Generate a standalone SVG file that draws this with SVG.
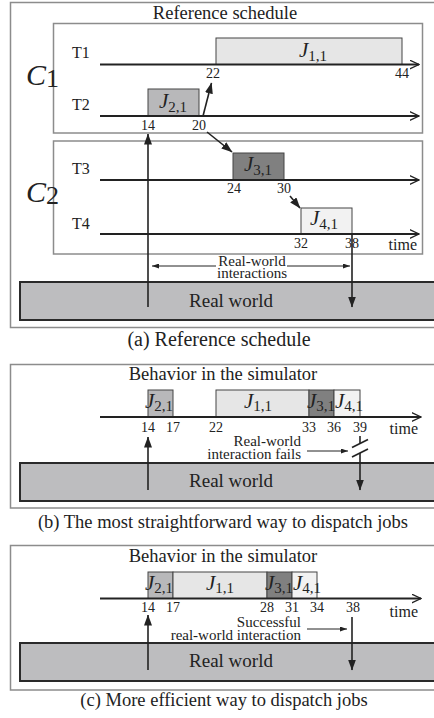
<svg xmlns="http://www.w3.org/2000/svg" width="434" height="718" viewBox="0 0 434 718">
<style>
text{font-family:"Liberation Serif","Times New Roman",serif;fill:#222}
.title{font-size:18.5px;text-anchor:middle}
.cap{font-size:18.5px;text-anchor:middle}
.tl{font-size:16px}
.num{font-size:14px;text-anchor:middle}
.tm{font-size:16px;text-anchor:end}
.sm{font-size:15px}
.rw{font-size:19px;text-anchor:middle}
.jl{font-size:21px;font-style:italic}
.js{font-size:15px;font-style:normal}
.panel{fill:#fff;stroke:#8c8c8c;stroke-width:1.5}
.cbox{fill:none;stroke:#8c8c8c;stroke-width:1.5}
.world{fill:#bdbdbf;stroke:#2a2a2a;stroke-width:2}
.job{stroke:#444;stroke-width:1}
.j1{fill:#e6e6e6}.j2{fill:#b8b8ba}.j3{fill:#808080}.j4{fill:#f2f2f2}
.axis{stroke:#222;stroke-width:2;fill:none;marker-end:url(#chev)}
.arr{stroke:#222;stroke-width:1.6;fill:none;marker-end:url(#tri)}
.thin{stroke:#222;stroke-width:1;fill:none;marker-end:url(#tris)}
.ln{stroke:#222;stroke-width:1.6;fill:none}
</style>
<defs>
<marker id="chev" viewBox="0 0 10 10" refX="9.5" refY="5" markerWidth="10" markerHeight="10" markerUnits="userSpaceOnUse" orient="auto"><path d="M0,0.5 L9.5,5 L0,9.5" fill="none" stroke="#222" stroke-width="1.3"/></marker>
<marker id="tri" viewBox="0 0 11 8" refX="10.5" refY="4" markerWidth="11" markerHeight="8" markerUnits="userSpaceOnUse" orient="auto"><path d="M0,0 L11,4 L0,8 z" fill="#222"/></marker>
<marker id="tris" viewBox="0 0 7 5" refX="7" refY="2.5" markerWidth="7" markerHeight="5" markerUnits="userSpaceOnUse" orient="auto"><path d="M0,0 L7,2.5 L0,5 z" fill="#222"/></marker>
</defs>

<!-- Panel (a) -->
<g id="panel-a">
<rect class="panel" x="10.5" y="2.5" width="440" height="325"/>
<text class="title" x="225" y="19">Reference schedule</text>
<rect id="c1-box" class="cbox" x="53.5" y="23.5" width="369" height="109.5"/>
<rect id="c2-box" class="cbox" x="53.5" y="141" width="369" height="113"/>
<text x="26" y="85" style="font-size:30px;font-style:italic">C<tspan style="font-size:26px;font-style:normal" dy="2">1</tspan></text>
<text x="26" y="202" style="font-size:30px;font-style:italic">C<tspan style="font-size:26px;font-style:normal" dy="2">2</tspan></text>
<text class="tl" x="72" y="58">T1</text>
<text class="tl" x="72" y="110">T2</text>
<text class="tl" x="72" y="174">T3</text>
<text class="tl" x="72" y="229">T4</text>
</g>
<g id="job-a-J11"><rect class="job j1" x="216" y="38" width="186" height="26.5"/><text class="jl" x="299" y="57">J<tspan class="js" dy="4">1,1</tspan></text></g>
<g id="job-a-J21"><rect class="job j2" x="148" y="89" width="51" height="27"/><text class="jl" x="159" y="108">J<tspan class="js" dy="4">2,1</tspan></text></g>
<g id="job-a-J31"><rect class="job j3" x="233" y="153" width="51" height="27"/><text class="jl" x="244" y="171">J<tspan class="js" dy="4">3,1</tspan></text></g>
<g id="job-a-J41"><rect class="job j4" x="301" y="208" width="51" height="26"/><text class="jl" x="310" y="225">J<tspan class="js" dy="4">4,1</tspan></text></g>
<g id="labels-a">
<text class="num" x="213" y="78">22</text>
<text class="num" x="402" y="78">44</text>
<text class="num" x="148" y="130">14</text>
<text class="num" x="199" y="130">20</text>
<text class="num" x="234" y="193">24</text>
<text class="num" x="284" y="193">30</text>
<text class="num" x="301" y="248">32</text>
<text class="num" x="352" y="248">38</text>
<text class="tm" x="417" y="250">time</text>
<text class="sm" x="252" y="266" text-anchor="middle">Real-world</text>
<text class="sm" x="252" y="278" text-anchor="middle">interactions</text>
</g>
<g id="world-a"><rect class="world" x="20" y="282" width="430" height="38"/><text class="rw" x="231" y="307">Real world</text></g>
<text class="cap" x="219" y="346" style="font-size:20px">(a) Reference schedule</text>

<!-- Panel (b) -->
<g id="panel-b">
<rect class="panel" x="10.5" y="364.5" width="440" height="143.5"/>
<text class="title" x="223" y="380">Behavior in the simulator</text>
</g>
<g id="job-b-J21"><rect class="job j2" x="148" y="390" width="25" height="27"/><text class="jl" x="145" y="408">J<tspan class="js" dy="3">2,1</tspan></text></g>
<g id="job-b-J11"><rect class="job j1" x="216" y="390" width="93" height="27"/><text class="jl" x="244" y="408">J<tspan class="js" dy="3">1,1</tspan></text></g>
<g id="job-b-J31"><rect class="job j3" x="309" y="390" width="25" height="27"/></g>
<g id="job-b-J41"><rect class="job j4" x="334" y="390" width="26" height="27"/></g>
<text class="jl" x="307" y="408">J<tspan class="js" dy="3">3,1</tspan></text>
<text class="jl" x="335" y="408">J<tspan class="js" dy="3">4,1</tspan></text>
<g id="labels-b">
<text class="num" x="148" y="432">14</text>
<text class="num" x="173" y="432">17</text>
<text class="num" x="216" y="432">22</text>
<text class="num" x="309" y="432">33</text>
<text class="num" x="334" y="432">36</text>
<text class="num" x="360" y="432">39</text>
<text class="tm" x="418" y="434">time</text>
<text class="sm" x="301" y="446" text-anchor="end">Real-world</text>
<text class="sm" x="301" y="459" text-anchor="end">interaction fails</text>
</g>
<g id="world-b"><rect class="world" x="20" y="463" width="430" height="38"/><text class="rw" x="231" y="487">Real world</text></g>
<text class="cap" x="223" y="528">(b) The most straightforward way to dispatch jobs</text>

<!-- Panel (c) -->
<g id="panel-c">
<rect class="panel" x="10.5" y="545.5" width="440" height="144.5"/>
<text class="title" x="223" y="562">Behavior in the simulator</text>
</g>
<g id="job-c-J21"><rect class="job j2" x="148" y="572" width="25" height="26.5"/></g>
<g id="job-c-J11"><rect class="job j1" x="173" y="572" width="94" height="26.5"/></g>
<g id="job-c-J31"><rect class="job j3" x="267" y="572" width="25" height="26.5"/></g>
<g id="job-c-J41"><rect class="job j4" x="292" y="572" width="25" height="26.5"/></g>
<text class="jl" x="145" y="590">J<tspan class="js" dy="3">2,1</tspan></text>
<text class="jl" x="206" y="590">J<tspan class="js" dy="3">1,1</tspan></text>
<text class="jl" x="265" y="590">J<tspan class="js" dy="3">3,1</tspan></text>
<text class="jl" x="293" y="590">J<tspan class="js" dy="3">4,1</tspan></text>
<g id="labels-c">
<text class="num" x="148" y="612">14</text>
<text class="num" x="173" y="612">17</text>
<text class="num" x="267" y="612">28</text>
<text class="num" x="292" y="612">31</text>
<text class="num" x="317" y="612">34</text>
<text class="num" x="353" y="612">38</text>
<text class="tm" x="418" y="617">time</text>
<text class="sm" x="301" y="627" text-anchor="end">Successful</text>
<text class="sm" x="301" y="640" text-anchor="end">real-world interaction</text>
</g>
<g id="world-c"><rect class="world" x="20" y="643" width="430" height="38"/><text class="rw" x="231" y="667">Real world</text></g>
<text class="cap" x="224" y="706">(c) More efficient way to dispatch jobs</text>

<!-- Connectors -->
<g id="connectors">
<path class="axis" d="M100,64.5 H419"/>
<path class="axis" d="M100,116 H419"/>
<path class="axis" d="M100,180 H419"/>
<path class="axis" d="M100,234 H419"/>
<path class="arr" d="M203,116 L211.5,83"/>
<path class="arr" d="M207,132 L232,152"/>
<path class="arr" d="M290,196 L300,208"/>
<path class="arr" d="M148,307 V134"/>
<path class="arr" d="M352,234 V307"/>
<path class="thin" d="M216,266 H152"/>
<path class="thin" d="M287,266 H350"/>

<path class="axis" d="M100,417 H421"/>
<path class="arr" d="M148,490 V437"/>
<path class="ln" d="M360,436 V444"/>
<path class="ln" d="M352,447.5 L368,439.5"/>
<path class="ln" d="M352,457 L368,449"/>
<path class="arr" d="M360,453 V490"/>
<path class="thin" d="M307,451 H348"/>

<path class="axis" d="M100,598.5 H421"/>
<path class="arr" d="M148,670 V615"/>
<path class="arr" d="M352,617 V670"/>
<path class="thin" d="M307,629 H347"/>
</g>
</svg>
